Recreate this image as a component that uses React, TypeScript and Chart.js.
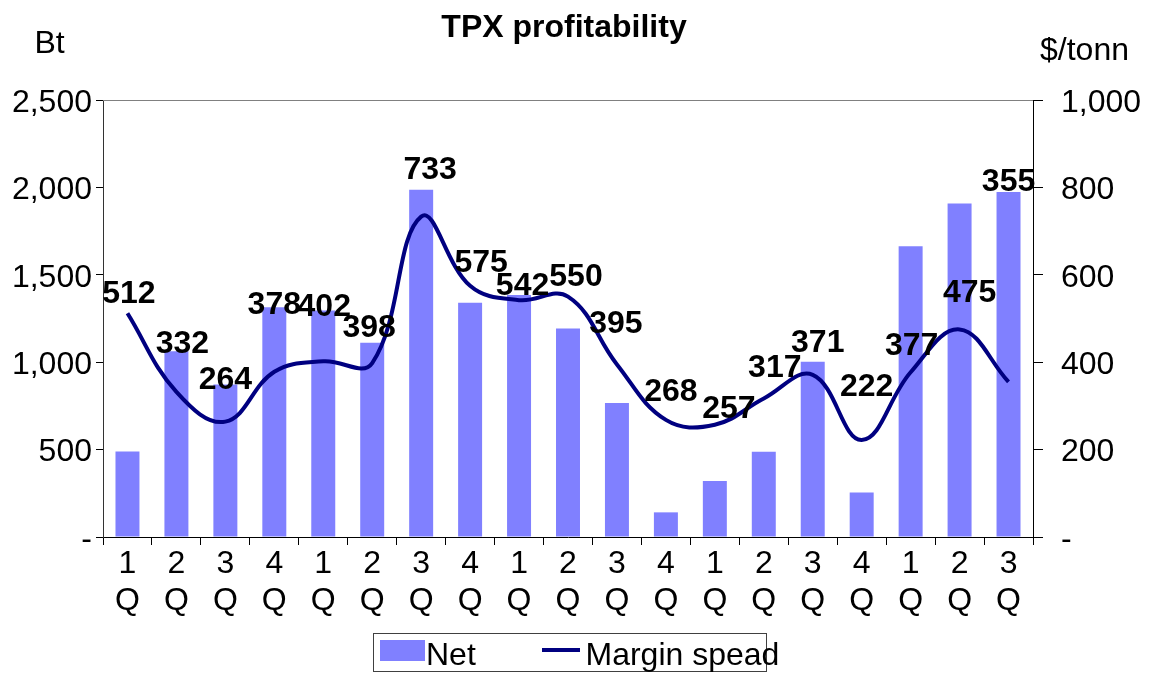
import React, { useEffect, useRef } from "react";
import { Chart, registerables } from "chart.js";

Chart.register(...registerables);

const FONT = "'Liberation Sans', Arial, sans-serif";
const FS = 32;

const quarters = ["1", "2", "3", "4", "1", "2", "3", "4", "1", "2", "3", "4", "1", "2", "3", "4", "1", "2", "3"];
const categories = quarters.map((q) => [q, "Q"]);
const netValues = [489, 1062, 872, 1315, 1296, 1111, 1986, 1340, 1384, 1193, 767, 141, 321, 487, 1002, 254, 1663, 1908, 1974];
const marginValues = [512, 332, 264, 378, 402, 398, 733, 575, 542, 550, 395, 268, 257, 317, 371, 222, 377, 475, 355];

// label nudges (dx, dy in px) relative to each line point
const labelNudges: [number, number][] = [
  [1.5, -10], [6, -39], [0, -33], [0, -58], [1, -45], [-3, -26], [9, -38], [11, -14],
  [3.5, -5], [8, -11], [-1, -31], [5, -19], [14, -7], [11, -21], [5, -23], [5, -44],
  [1, -17], [10, -27.5], [0, -191],
];

const titleText = "TPX profitability";
const leftAxisTitle = "Bt";
const rightAxisTitle = "$/tonn";
const legendNet = "Net";
const legendMargin = "Margin spead";

const tickFmt = (v: any) => (Number(v) === 0 ? "-" : Number(v).toLocaleString("en-US"));

const overlay = {
  id: "overlay",
  beforeDatasetsDraw(chart: any) {
    const { ctx, chartArea } = chart;
    ctx.save();
    ctx.strokeStyle = "#808080";
    ctx.lineWidth = 1;
    ctx.beginPath();
    ctx.moveTo(chartArea.left, chartArea.top + 0.5);
    ctx.lineTo(chartArea.right, chartArea.top + 0.5);
    ctx.stroke();
    ctx.restore();
  },
  afterDatasetsDraw(chart: any) {
    const ctx = chart.ctx;
    const meta = chart.getDatasetMeta(1);
    ctx.save();
    ctx.font = `bold ${FS}px ${FONT}`;
    ctx.fillStyle = "#000";
    ctx.textAlign = "center";
    ctx.textBaseline = "alphabetic";
    meta.data.forEach((pt: any, i: number) => {
      const [dx, dy] = labelNudges[i];
      ctx.fillText(String(marginValues[i]), pt.x + dx, pt.y + dy);
    });
    ctx.restore();
  },
  afterDraw(chart: any) {
    const ctx = chart.ctx;
    ctx.save();
    ctx.fillStyle = "#000";
    ctx.textBaseline = "alphabetic";
    // title
    ctx.font = `bold ${FS}px ${FONT}`;
    ctx.textAlign = "center";
    ctx.fillText(titleText, 564, 37);
    // axis titles
    ctx.font = `${FS}px ${FONT}`;
    ctx.textAlign = "left";
    ctx.fillText(leftAxisTitle, 34.5, 53);
    ctx.fillText(rightAxisTitle, 1040, 60);
    // legend
    ctx.strokeStyle = "#404040";
    ctx.lineWidth = 1;
    ctx.strokeRect(373.5, 633.5, 393, 38);
    ctx.fillStyle = "#8080FF";
    ctx.fillRect(380, 640, 45, 21);
    ctx.strokeStyle = "#000080";
    ctx.lineWidth = 4;
    ctx.beginPath();
    ctx.moveTo(542, 650);
    ctx.lineTo(580, 650);
    ctx.stroke();
    ctx.fillStyle = "#000";
    ctx.fillText(legendNet, 426, 665);
    ctx.fillText(legendMargin, 585.5, 665);
    ctx.restore();
  },
};

export default function App() {
  const ref = useRef<HTMLCanvasElement>(null);
  useEffect(() => {
    const chart = new Chart(ref.current as HTMLCanvasElement, {
      type: "bar",
      data: {
        labels: categories as any,
        datasets: [
          {
            type: "bar",
            label: legendNet,
            data: netValues,
            backgroundColor: "#8080FF",
            borderWidth: 0,
            barPercentage: 0.49,
            categoryPercentage: 1.0,
            yAxisID: "y",
            order: 1,
          } as any,
          {
            type: "line",
            label: legendMargin,
            data: marginValues,
            borderColor: "#000080",
            backgroundColor: "#000080",
            borderWidth: 4,
            tension: 0.4,
            pointRadius: 0,
            fill: false,
            yAxisID: "y1",
            order: 0,
          } as any,
        ],
      },
      options: {
        responsive: false,
        animation: false,
        devicePixelRatio: 1,
        layout: { padding: { top: 100, left: 0, right: 0, bottom: 0 } },
        plugins: {
          legend: { display: false },
          title: { display: false },
          tooltip: { enabled: false },
        },
        scales: {
          x: {
            grid: { offset: true, drawOnChartArea: false, tickLength: 8, color: "#000" },
            border: { color: "#000" },
            ticks: {
              font: { family: FONT, size: FS, lineHeight: 37 / FS },
              color: "#000",
              padding: 1,
              autoSkip: false,
              maxRotation: 0,
              minRotation: 0,
            },
            afterFit: (s: any) => {
              s.height = 136;
            },
          },
          y: {
            position: "left",
            min: 0,
            max: 2500,
            grid: { drawOnChartArea: false, tickLength: 7, color: "#000" },
            border: { color: "#333" },
            ticks: {
              stepSize: 500,
              callback: tickFmt,
              font: { family: FONT, size: FS },
              color: "#000",
              padding: 4,
              labelOffset: 3,
            },
            afterFit: (s: any) => {
              s.width = 103;
            },
          },
          y1: {
            position: "right",
            min: 0,
            max: 1000,
            grid: { drawOnChartArea: false, tickLength: 10, color: "#000" },
            border: { color: "#000" },
            ticks: {
              stepSize: 200,
              callback: tickFmt,
              font: { family: FONT, size: FS },
              color: "#000",
              padding: 18,
              labelOffset: 3,
            },
            afterFit: (s: any) => {
              s.width = 124;
            },
          },
        },
      } as any,
      plugins: [overlay],
    });
    return () => chart.destroy();
  }, []);
  return (
    <div style={{ position: "absolute", left: 0, top: 0, width: 1157, height: 673, background: "#fff" }}>
      <canvas ref={ref} width={1157} height={673} style={{ display: "block", width: 1157, height: 673 }} />
    </div>
  );
}
